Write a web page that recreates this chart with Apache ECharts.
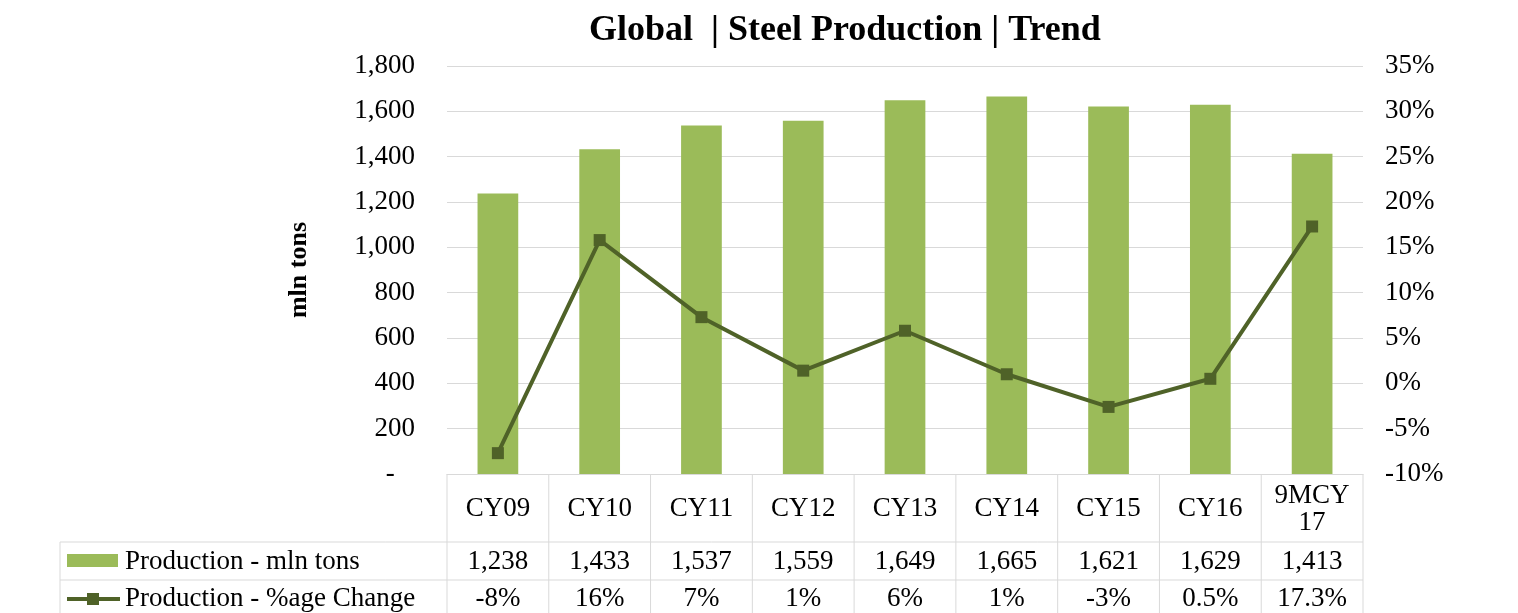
<!DOCTYPE html>
<html>
<head>
<meta charset="utf-8">
<script src="https://cdn.jsdelivr.net/npm/echarts@6/dist/echarts.min.js"></script>
<style>
  html, body { margin: 0; padding: 0; background: #fff; }
  #chart { width: 1518px; height: 613px; }
</style>
</head>
<body>
<div id="chart"></div>
<script>
// data
var categories = ["CY09", "CY10", "CY11", "CY12", "CY13", "CY14", "CY15", "CY16", "9MCY17"];
var headerLabels = ["CY09", "CY10", "CY11", "CY12", "CY13", "CY14", "CY15", "CY16", "9MCY\n17"];
var production = [1238, 1433, 1537, 1559, 1649, 1665, 1621, 1629, 1413];
var pctChange = [-7.7, 15.8, 7.3, 1.4, 5.8, 1.0, -2.6, 0.5, 17.3];
var pctLabels = ["-8%", "16%", "7%", "1%", "6%", "1%", "-3%", "0.5%", "17.3%"];
var seriesNames = ["Production - mln tons", "Production - %age Change"];

var FONT = "'Liberation Serif', 'Times New Roman', serif";
var BAR = "#9BBB59";
var LINE = "#4F6228";
var GRID = "#D9D9D9";

var myChart = echarts.init(document.getElementById("chart"));

var option = {
  backgroundColor: "#fff",
  animation: false,
  textStyle: { fontFamily: FONT },
  title: {
    text: "Global  | Steel Production | Trend",
    left: 584,
    top: 8,
    textStyle: { fontFamily: FONT, fontWeight: "bold", fontSize: 36, color: "#000" }
  },
  grid: { left: 447, right: 155, top: 66, bottom: 139 },
  xAxis: {
    type: "category",
    data: categories,
    axisLine: { lineStyle: { color: GRID, width: 1 } },
    axisTick: { show: false },
    axisLabel: { show: false }
  },
  yAxis: [
    {
      type: "value",
      min: 0,
      max: 1800,
      interval: 200,
      name: "mln tons",
      nameLocation: "middle",
      nameGap: 135,
      nameTextStyle: { fontFamily: FONT, fontWeight: "bold", fontSize: 26, color: "#000" },
      axisLine: { show: false },
      axisTick: { show: false },
      splitLine: { lineStyle: { color: GRID, width: 1 } },
      axisLabel: {
        margin: 32,
        fontFamily: FONT,
        fontSize: 27,
        color: "#000",
        formatter: function (v) {
          return v === 0 ? "-   " : v.toLocaleString("en-US");
        }
      }
    },
    {
      type: "value",
      min: -10,
      max: 35,
      interval: 5,
      axisLine: { show: false },
      axisTick: { show: false },
      splitLine: { show: false },
      axisLabel: {
        margin: 22,
        fontFamily: FONT,
        fontSize: 27,
        color: "#000",
        formatter: "{value}%"
      }
    }
  ],
  series: [
    {
      name: seriesNames[0],
      type: "bar",
      data: production,
      barWidth: "40%",
      itemStyle: { color: BAR }
    },
    {
      name: seriesNames[1],
      type: "line",
      yAxisIndex: 1,
      data: pctChange,
      symbol: "rect",
      symbolSize: 12,
      lineStyle: { color: LINE, width: 4 },
      itemStyle: { color: LINE }
    }
  ]
};
myChart.setOption(option);

// data table under the plot, lined up with the category axis
function buildTable() {
  var c0 = myChart.convertToPixel({ xAxisIndex: 0 }, 0);
  var c1 = myChart.convertToPixel({ xAxisIndex: 0 }, 1);
  var band = c1 - c0;
  var start = c0 - band / 2;
  var end = start + band * categories.length;
  var top = myChart.convertToPixel({ yAxisIndex: 0 }, 0);
  var r1 = top + 68, r2 = r1 + 38, r3 = r2 + 38;
  var legendLeft = 60;
  var g = [];
  var ls = { stroke: GRID, lineWidth: 1 };
  var txt = function (x, y, s, align) {
    return {
      type: "text", x: x, y: y,
      style: { text: s, fontFamily: FONT, fontSize: 27, fill: "#000",
               align: align || "center", verticalAlign: "middle", lineHeight: 27 }
    };
  };

  g.push({ type: "line", shape: { x1: legendLeft, y1: r1, x2: end, y2: r1 }, style: ls });
  g.push({ type: "line", shape: { x1: legendLeft, y1: r2, x2: end, y2: r2 }, style: ls });
  g.push({ type: "line", shape: { x1: legendLeft, y1: r3, x2: end, y2: r3 }, style: ls });
  g.push({ type: "line", shape: { x1: legendLeft, y1: r1, x2: legendLeft, y2: r3 }, style: ls });
  for (var i = 0; i <= categories.length; i++) {
    var x = start + band * i;
    g.push({ type: "line", shape: { x1: x, y1: top, x2: x, y2: r3 }, style: ls });
  }
  for (var j = 0; j < categories.length; j++) {
    var cx = myChart.convertToPixel({ xAxisIndex: 0 }, j);
    g.push(txt(cx, (top + r1) / 2 + 1, headerLabels[j]));
    g.push(txt(cx, (r1 + r2) / 2 + 1, production[j].toLocaleString("en-US")));
    g.push(txt(cx, (r2 + r3) / 2, pctLabels[j]));
  }

  // legend keys
  g.push({ type: "rect", shape: { x: 67, y: (r1 + r2) / 2 - 7, width: 51, height: 13 }, style: { fill: BAR } });
  g.push({ type: "line", shape: { x1: 67, y1: (r2 + r3) / 2, x2: 120, y2: (r2 + r3) / 2 },
           style: { stroke: LINE, lineWidth: 4 } });
  g.push({ type: "rect", shape: { x: 87, y: (r2 + r3) / 2 - 6, width: 12, height: 12 }, style: { fill: LINE } });
  g.push(txt(125, (r1 + r2) / 2 + 1, seriesNames[0], "left"));
  g.push(txt(125, (r2 + r3) / 2, seriesNames[1], "left"));

  myChart.setOption({ graphic: g });
}
buildTable();
</script>
</body>
</html>
